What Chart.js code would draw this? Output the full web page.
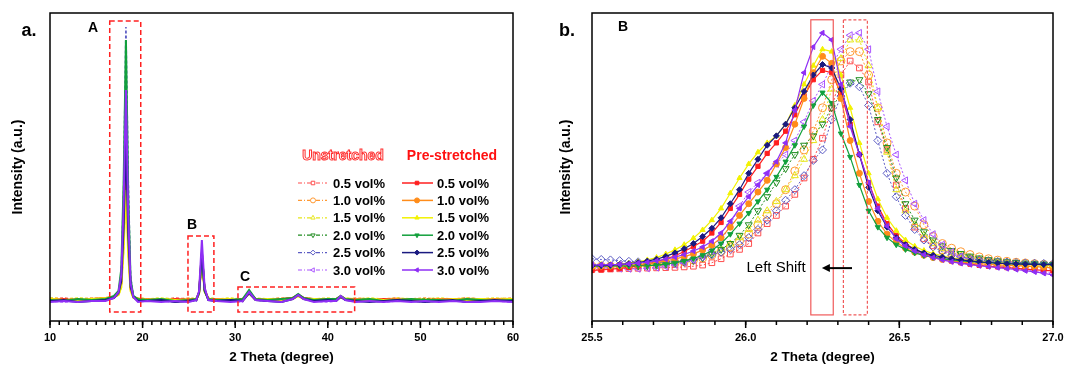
<!doctype html>
<html lang="en">
<head>
<meta charset="UTF-8" />
<title>XRD patterns</title>
<script src="https://cdn.jsdelivr.net/npm/chart.js"></script>
<style>
  body { margin: 0; background: #fff; }
  #wrap { position: relative; width: 1068px; height: 369px; }
  canvas { position: absolute; top: 0; }
  #leftChart { left: 0; }
  #rightChart { left: 540px; }
</style>
</head>
<body>
<div id="wrap">
  <canvas id="leftChart" width="540" height="369"></canvas>
  <canvas id="rightChart" width="528" height="369"></canvas>
</div>
<script>
// ---- data: panel a (full scan) ----
const leftX = [10, 11.5, 13, 14.5, 16, 16.9, 17.4, 17.7, 17.95, 18.2, 18.45, 18.7, 19.0, 19.5, 20.5, 22, 23.5, 25, 25.8, 26.1,
  26.4, 26.7, 27.1, 28, 29.5, 30.8, 31.5, 32.2, 33.5, 35, 36.2, 36.8, 37.4, 38.5, 40, 40.9, 41.4, 41.9, 43, 44.5,
  46, 47.5, 49, 50.5, 52, 53.5, 55, 56.5, 58, 60];

const aU05 = [1,2,0,1,2,3,6,15,62,150,66,13,3,1,1,0,2,1,1,6,40,10,1,1,0,1,6,1,0,1,1,4,2,1,0,1,3,1,1,0,1,2,0,1,0,1,2,1,0,1];
const aU10 = [2,1,1,2,1,3,6,17,70,170,75,15,3,2,1,1,0,2,1,6,44,11,2,1,1,0,7,1,1,2,2,5,2,1,1,0,3,1,2,1,1,0,1,2,1,1,0,1,1,2];
const aU15 = [2,1,2,1,2,3,5,12,50,120,53,10,3,2,1,2,1,1,2,6,42,11,2,1,2,1,6,2,1,1,2,4,2,1,2,1,3,2,1,2,1,2,1,1,2,1,2,1,2,1];
const aU20 = [0,1,0,1,1,3,7,22,88,215,95,19,4,1,0,1,0,1,0,6,42,11,1,0,1,0,9,1,0,1,1,5,2,1,0,1,4,1,0,1,0,1,0,1,1,0,1,0,1,0];
const aU25 = [-1,0,-1,0,0,3,8,27,112,273,120,24,4,0,-1,0,-1,0,-1,6,40,10,0,-1,0,-1,7,0,-1,0,1,4,1,0,-1,0,3,0,-1,0,-1,0,-1,0,0,-1,0,-1,0,-1];
const aU30 = [-1,-2,-1,-1,0,3,8,23,92,225,99,20,4,-1,-1,-1,-2,-1,-1,7,52,13,0,-1,-1,-2,8,0,-1,-1,1,5,1,-1,-2,-1,3,0,-1,-1,-2,-1,-1,-2,-1,-1,-2,-1,-1,-2];
const aP05 = [0,1,-1,1,2,3,6,17,63,140,56,11,3,1,0,-1,1,0,1,7,44,9,1,0,-1,1,7,1,0,1,2,5,2,0,1,1,3,1,0,-1,1,0,1,-1,0,1,0,-1,0,-1];
const aP10 = [1,0,1,-1,1,3,7,20,72,160,64,13,3,0,1,0,-1,1,0,8,47,10,1,1,0,0,8,1,1,0,2,5,2,1,0,1,4,1,1,0,0,1,-1,0,1,0,1,0,1,0];
const aP15 = [1,0,0,1,2,3,5,13,50,110,44,9,2,1,0,1,0,-1,1,6,40,8,1,0,1,-1,7,0,1,0,1,4,1,1,0,0,3,1,-1,1,0,0,1,0,-1,1,0,1,0,1];
const aP20 = [0,-1,1,0,1,4,9,31,117,260,104,21,4,1,0,1,-1,0,1,7,45,9,1,0,0,1,10,1,0,1,2,6,2,0,1,1,4,1,0,1,-1,0,1,0,0,-1,1,0,-1,0];
const aP25 = [-1,0,-2,-1,0,2,7,19,72,160,64,13,3,-1,-1,0,-2,-1,0,8,48,10,0,-1,0,-1,7,0,-1,-2,1,5,1,-1,0,-1,3,0,-1,-2,-1,0,-1,-2,-1,0,-2,-1,0,-1];
const aP30 = [-2,-1,-2,-1,-1,2,8,25,95,210,84,17,3,-2,-1,-2,-1,-2,0,9,60,12,0,-1,-2,-1,8,0,-1,-2,1,5,1,-2,-1,-1,4,0,-2,-1,-2,-1,-2,-1,-2,-1,-2,-2,-1,-2];

// ---- data: panel b (peak B zoom) ----
const rightX = [25.50, 25.53, 25.56, 25.59, 25.62, 25.65, 25.68, 25.71, 25.74, 25.77, 25.80, 25.83, 25.86, 25.89, 25.92, 25.95, 25.98,
  26.01, 26.04, 26.07, 26.10, 26.13, 26.16, 26.19, 26.22, 26.25, 26.28, 26.31, 26.34, 26.37, 26.40, 26.43, 26.46, 26.49,
  26.52, 26.55, 26.58, 26.61, 26.64, 26.67, 26.70, 26.73, 26.76, 26.79, 26.82, 26.85, 26.88, 26.91, 26.94, 26.97, 27.00];

const bU05 = [-1.0,-1.0,-0.9,-0.8,-0.7,-0.6,-0.5,-0.4,-0.3,-0.2,0,0.3,0.8,1.8,3.5,5.5,7.5,10,14.5,18.5,22,26,31,38,46,55,68,82,88,85,79,62,50,35,25,17,12,9,7,5.5,4.4,3.5,2.8,2.2,1.7,1.3,0.9,0.5,0.2,-0.2,-0.5];
const bU10 = [0.3,0.3,0.3,0.4,0.5,0.6,0.8,1.0,1.3,1.7,2.2,2.9,3.8,5,6.6,8.6,11,14,18,22.5,27,33,41,50,58,68,80,88,92,92,82,68,53,40,32,26,18,13,10,8,6.5,5.3,4.3,3.5,2.9,2.4,2.0,1.7,1.4,1.1,0.9];
const bU15 = [0.6,0.6,0.6,0.7,0.8,0.9,1.1,1.4,1.8,2.3,2.9,3.7,4.7,6,7.7,9.8,12.5,16,20,24,28,33,39,46,54,63,76,89,97,97,86,68,49,33,24,18,13.5,10,7.8,6.2,5.0,4.1,3.4,2.8,2.3,1.9,1.6,1.3,1.1,0.9,0.7];
const bU20 = [0.2,0.2,0.2,0.3,0.3,0.4,0.5,0.7,1.0,1.4,2.0,2.8,3.9,5.5,7.5,10,13.5,18,24,30,36,42,48,52,56,61,68,74,79,80,74,63,51,38,27,20,15,11.5,9,7,5.7,4.6,3.8,3.1,2.6,2.2,1.9,1.6,1.4,1.2,1.0];
const bU25 = [3.5,3.2,3.0,2.7,2.4,2.2,2.0,2.0,2.1,2.3,2.6,3.2,4.2,5.2,6.3,7.5,9.5,12.5,16,20,24,28.5,33,39,45.5,50,63,73,78.5,77,69,54,40,30,22,16,11.5,8.5,6.5,5.0,4.2,3.5,3.0,2.6,2.3,2.1,1.9,1.7,1.6,1.5,1.4];
const bU30 = [0.0,-0.3,-0.5,-0.7,-0.8,-0.8,-0.6,-0.3,0.2,0.9,1.8,3.0,4.6,7,11,18,26,32,36,40,44,48,54,62,71,78,86,93,99,100,93,75,60,48,37,27,20,14,9.5,6.5,4.5,3.0,2.0,1.2,0.6,0,-0.5,-1.0,-1.6,-2.2,-2.8];
const bP05 = [-1.5,-1.3,-1.0,-0.6,-0.2,0.4,1.2,2.2,3.4,4.8,6.6,8.7,11,14.5,19,25,31,37.5,43,48.5,53,58,65,73,80,84,83,74,61,48,36,26,18.5,13.5,10,7.5,5.8,4.4,3.4,2.5,1.8,1.2,0.7,0.3,0,-0.3,-0.6,-0.9,-1.2,-1.5,-1.7];
const bP10 = [0.2,0.3,0.4,0.5,0.7,1.0,1.4,1.9,2.6,3.4,4.4,5.6,7.2,9.3,12.5,17,22,27,32,37,44,51,61,72,83,90,87,72,54,40,28,19.5,14,10.5,8,6.3,5,4,3.2,2.6,2.1,1.7,1.4,1.1,0.9,0.7,0.5,0.3,0.1,-0.1,-0.3];
const bP15 = [0.3,0.5,0.8,1.1,1.6,2.2,3.0,4.0,5.5,7.3,9.5,12.3,15.8,20,25,31.5,38,44,49,53,56,61,69,78,86,93,92,82,68,53,40,29,21,15.5,11.5,8.8,7.0,5.7,4.7,3.9,3.3,2.8,2.4,2.0,1.7,1.5,1.3,1.1,1.0,0.8,0.6];
const bP20 = [0.4,0.4,0.4,0.4,0.4,0.5,0.6,0.8,1.2,1.8,2.6,3.6,5.0,7.0,10,14,18.5,23,28,33,38.5,45,52,60,69,74.5,70,57,47,35,24,17,12.5,9.5,7.5,6,4.9,4.1,3.5,3.0,2.6,2.3,2.0,1.8,1.6,1.4,1.3,1.2,1.2,1.1,1.1];
const bP25 = [0.5,0.6,0.8,1.0,1.4,1.9,2.5,3.3,4.5,6.0,7.8,10.0,13.0,16.5,21,27,33,40,46,52,56,61,68,75,82,86.5,85,76,63,48,34,24,17,12.5,9.5,7.5,6.0,5.0,4.2,3.5,3.0,2.6,2.2,1.9,1.6,1.4,1.3,1.2,1.1,1.0,1.0];
const bP30 = [0.9,0.9,1.0,1.1,1.3,1.6,2.0,2.6,3.3,4.2,5.3,6.8,8.5,11,14.5,19.5,25,30,35,40,45,53,67,83,94,100,97,78,60,48,36,25,17.5,12,9,6.8,5.2,4.0,3.0,2.2,1.5,1.0,0.5,0.1,-0.3,-0.7,-1.1,-1.6,-2.1,-2.7,-3.5];

const volLabels = ['0.5 vol%', '1.0 vol%', '1.5 vol%', '2.0 vol%', '2.5 vol%', '3.0 vol%'];
const leftTicks = [10, 20, 30, 40, 50, 60];
const leftTickLabels = ['10', '20', '30', '40', '50', '60'];
const rightTicks = [25.5, 26.0, 26.5, 27.0];
const rightTickLabels = ['25.5', '26.0', '26.5', '27.0'];

// ---- styles ----
const unColors = ['#ff4d4d', '#ff9933', '#e6e61a', '#208c20', '#5c5cc4', '#aa55ff'];
const preColors = ['#ff1f1f', '#ff8c1a', '#f2f200', '#12a03c', '#1a1a80', '#8f2ff5'];
const markers = ['rect', 'circle', 'triangle', 'triangle', 'rectRot', 'triangle'];
const markerRot = [0, 0, 0, 180, 0, -90];
const FONT = '"Liberation Sans", Arial, sans-serif';

Chart.defaults.font.family = FONT;
Chart.defaults.color = '#000';

function xy(xs, ys) {
  return xs.map((x, i) => ({ x: x, y: ys[i] }));
}

function line(ctx, x1, y1, x2, y2) {
  ctx.beginPath();
  ctx.moveTo(x1, y1);
  ctx.lineTo(x2, y2);
  ctx.stroke();
}

// frame box + major/minor ticks on the x axis
const axisFrame = {
  id: 'axisFrame',
  afterDraw(chart, args, o) {
    const { ctx, chartArea: a } = chart;
    const sx = chart.scales.x;
    ctx.save();
    ctx.strokeStyle = '#000';
    ctx.lineWidth = 1.5;
    ctx.strokeRect(a.left, a.top, a.right - a.left, a.bottom - a.top);
    o.minor.forEach((v) => {
      const p = sx.getPixelForValue(v);
      line(ctx, p, a.bottom, p, a.bottom + 4);
    });
    o.major.forEach((v) => {
      const p = sx.getPixelForValue(v);
      line(ctx, p, a.bottom, p, a.bottom + 7);
    });
    ctx.fillStyle = '#000';
    ctx.font = 'bold 18px ' + FONT;
    ctx.textAlign = 'center';
    ctx.textBaseline = 'middle';
    ctx.fillText(o.panel, o.panelX, 31);
    ctx.restore();
  },
};

function drawMarker(ctx, style, rot, r, x, y) {
  if (Chart.helpers && Chart.helpers.drawPoint) {
    Chart.helpers.drawPoint(ctx, { pointStyle: style, rotation: rot, radius: r, borderWidth: 1 }, x, y);
  } else {
    ctx.beginPath();
    ctx.arc(x, y, r, 0, Math.PI * 2);
    ctx.fill();
    ctx.stroke();
  }
}

function dataBox(ctx, c, b) {
  const x0 = c.scales.x.getPixelForValue(b.x0);
  const x1 = c.scales.x.getPixelForValue(b.x1);
  const y0 = c.scales.y.getPixelForValue(b.y0);
  const y1 = c.scales.y.getPixelForValue(b.y1);
  ctx.strokeRect(x0, y1, x1 - x0, y0 - y1);
}

// panel a: dashed boxes, letters, legend
const leftNotes = {
  id: 'leftNotes',
  afterDatasetsDraw(c) {
    const ctx = c.ctx;
    ctx.save();
    ctx.strokeStyle = '#ff2020';
    ctx.lineWidth = 1.5;
    ctx.setLineDash([5, 3]);
    [
      { x0: 16.45, x1: 19.8, y0: -12, y1: 279 },
      { x0: 24.9, x1: 27.7, y0: -12, y1: 64 },
      { x0: 30.3, x1: 42.9, y0: -12, y1: 13 },
    ].forEach((b) => dataBox(ctx, c, b));
    ctx.setLineDash([]);
    ctx.fillStyle = '#000';
    ctx.font = 'bold 14px ' + FONT;
    ctx.textAlign = 'center';
    ctx.textBaseline = 'middle';
    [['A', 14.64, 272], ['B', 25.33, 75], ['C', 31.06, 23]].forEach((t) => {
      ctx.fillText(t[0], c.scales.x.getPixelForValue(t[1]), c.scales.y.getPixelForValue(t[2]));
    });

    // legend
    ctx.font = 'bold 14px ' + FONT;
    ctx.lineWidth = 1;
    ctx.fillStyle = '#fff';
    ctx.strokeStyle = '#ff3030';
    ctx.fillText('Unstretched', 343, 156);
    ctx.strokeText('Unstretched', 343, 156);
    ctx.fillStyle = '#ff1010';
    ctx.fillText('Pre-stretched', 452, 156);
    ctx.font = 'bold 13px ' + FONT;
    ctx.textAlign = 'left';
    volLabels.forEach((lab, i) => {
      const y = 183 + i * 17.4;
      ctx.lineWidth = 1.2;
      ctx.strokeStyle = unColors[i];
      ctx.setLineDash([4, 2, 1, 2]);
      line(ctx, 298, y, 327, y);
      ctx.setLineDash([]);
      ctx.lineWidth = 1;
      ctx.fillStyle = '#fff';
      drawMarker(ctx, markers[i], markerRot[i], 2.5, 313, y);
      ctx.strokeStyle = preColors[i];
      ctx.lineWidth = 1.5;
      line(ctx, 402, y, 433, y);
      ctx.lineWidth = 1;
      ctx.fillStyle = preColors[i];
      drawMarker(ctx, markers[i], markerRot[i], 2.5, 417, y);
      ctx.fillStyle = '#000';
      ctx.fillText(lab, 333, y + 1);
      ctx.fillText(lab, 437, y + 1);
    });
    ctx.restore();
  },
};

// panel b: boxes, letter, shift arrow
const rightNotes = {
  id: 'rightNotes',
  afterDatasetsDraw(c) {
    const ctx = c.ctx;
    const sx = c.scales.x;
    const sy = c.scales.y;
    ctx.save();
    ctx.strokeStyle = '#f05a5a';
    ctx.lineWidth = 1.2;
    dataBox(ctx, c, { x0: 26.212, x1: 26.285, y0: -20.5, y1: 105.6 });
    ctx.setLineDash([3, 2]);
    dataBox(ctx, c, { x0: 26.318, x1: 26.396, y0: -20.5, y1: 105.6 });
    ctx.setLineDash([]);
    ctx.fillStyle = '#000';
    ctx.textAlign = 'center';
    ctx.textBaseline = 'middle';
    ctx.font = 'bold 14px ' + FONT;
    ctx.fillText('B', sx.getPixelForValue(25.601), sy.getPixelForValue(102.6));
    ctx.font = '15px ' + FONT;
    ctx.fillText('Left Shift', sx.getPixelForValue(26.099), sy.getPixelForValue(-0.5));
    const ay = sy.getPixelForValue(-0.5);
    const ax0 = sx.getPixelForValue(26.346);
    const ax1 = sx.getPixelForValue(26.248);
    ctx.strokeStyle = '#000';
    ctx.lineWidth = 2;
    line(ctx, ax0, ay, ax1 + 4, ay);
    ctx.beginPath();
    ctx.moveTo(ax1, ay);
    ctx.lineTo(ax1 + 8, ay - 4);
    ctx.lineTo(ax1 + 8, ay + 4);
    ctx.closePath();
    ctx.fill();
    ctx.restore();
  },
};

function buildDatasets(xs, unSeries, preSeries, big) {
  const sets = [];
  for (let i = 5; i >= 0; i--) {
    sets.push({
      label: 'Pre-stretched ' + volLabels[i],
      data: xy(xs, preSeries[i]),
      borderColor: preColors[i],
      backgroundColor: preColors[i],
      pointBackgroundColor: preColors[i],
      pointBorderColor: preColors[i],
      pointStyle: markers[i],
      pointRotation: markerRot[i],
      pointRadius: big ? 3 : 0,
      pointBorderWidth: 1,
      borderWidth: big ? 1.2 : 2,
    });
  }
  for (let i = 5; i >= 0; i--) {
    sets.push({
      label: 'Unstretched ' + volLabels[i],
      data: xy(xs, unSeries[i]),
      borderColor: unColors[i],
      backgroundColor: 'rgba(255,255,255,0)',
      pointBackgroundColor: 'rgba(255,255,255,0)',
      pointBorderColor: unColors[i],
      pointStyle: markers[i],
      pointRotation: markerRot[i],
      pointRadius: big ? 4 : 0,
      pointBorderWidth: 1,
      borderWidth: big ? 1 : 1.6,
      borderDash: big ? [2, 2] : [3, 2],
    });
  }
  return sets;
}

function makeOptions(cfg) {
  return {
    responsive: false,
    animation: false,
    devicePixelRatio: 1,
    layout: { padding: { left: 0, top: 13, right: cfg.padRight, bottom: 0 } },
    plugins: {
      legend: { display: false },
      tooltip: { enabled: false },
      axisFrame: { major: cfg.ticks, minor: cfg.minor, panel: cfg.panel, panelX: cfg.panelX },
    },
    elements: { line: { tension: 0 } },
    scales: {
      x: {
        type: 'linear',
        min: cfg.xmin,
        max: cfg.xmax,
        afterBuildTicks: (s) => {
          s.ticks = cfg.ticks.map((v) => ({ value: v }));
        },
        ticks: {
          callback: (v, i) => cfg.tickLabels[i],
          font: { size: 11, weight: 'bold' },
          color: '#000',
          padding: 10,
          maxRotation: 0,
          autoSkip: false,
        },
        grid: { display: false, drawTicks: false },
        border: { display: false },
        title: {
          display: true,
          text: '2 Theta (degree)',
          font: { size: 13.5, weight: 'bold' },
          color: '#000',
          padding: { top: 0, bottom: 4 },
        },
        afterFit: (s) => {
          s.height = 48;
          s.paddingLeft = 0;
          s.paddingRight = 0;
        },
      },
      y: {
        min: cfg.ymin,
        max: cfg.ymax,
        ticks: { display: false },
        grid: { display: false, drawTicks: false },
        border: { display: false },
        title: {
          display: true,
          text: 'Intensity (a.u.)',
          font: { size: 14, weight: 'bold' },
          color: '#000',
          padding: { top: cfg.yTitlePad, bottom: 0 },
        },
        afterFit: (s) => {
          s.width = cfg.yWidth;
          s.paddingTop = 0;
          s.paddingBottom = 0;
        },
      },
    },
  };
}

const leftMinor = [];
for (let v = 10; v <= 60; v += 1) leftMinor.push(v);
const rightMinor = [];
for (let k = 0; k <= 15; k++) rightMinor.push(25.5 + k * 0.1);

new Chart(document.getElementById('leftChart'), {
  type: 'line',
  data: {
    datasets: buildDatasets(leftX, [aU05, aU10, aU15, aU20, aU25, aU30], [aP05, aP10, aP15, aP20, aP25, aP30], false),
  },
  options: makeOptions({
    padRight: 27, xmin: 10, xmax: 60, ymin: -21, ymax: 287,
    ticks: leftTicks, tickLabels: leftTickLabels, minor: leftMinor,
    yWidth: 50, yTitlePad: 9.6, panel: 'a.', panelX: 29,
  }),
  plugins: [axisFrame, leftNotes],
});

new Chart(document.getElementById('rightChart'), {
  type: 'line',
  data: {
    datasets: buildDatasets(rightX, [bU05, bU10, bU15, bU20, bU25, bU30], [bP05, bP10, bP15, bP20, bP25, bP30], true),
  },
  options: makeOptions({
    padRight: 15, xmin: 25.5, xmax: 27.0, ymin: -23.1, ymax: 108.5,
    ticks: rightTicks, tickLabels: rightTickLabels, minor: rightMinor,
    yWidth: 52, yTitlePad: 17.6, panel: 'b.', panelX: 27,
  }),
  plugins: [axisFrame, rightNotes],
});
</script>
</body>
</html>
